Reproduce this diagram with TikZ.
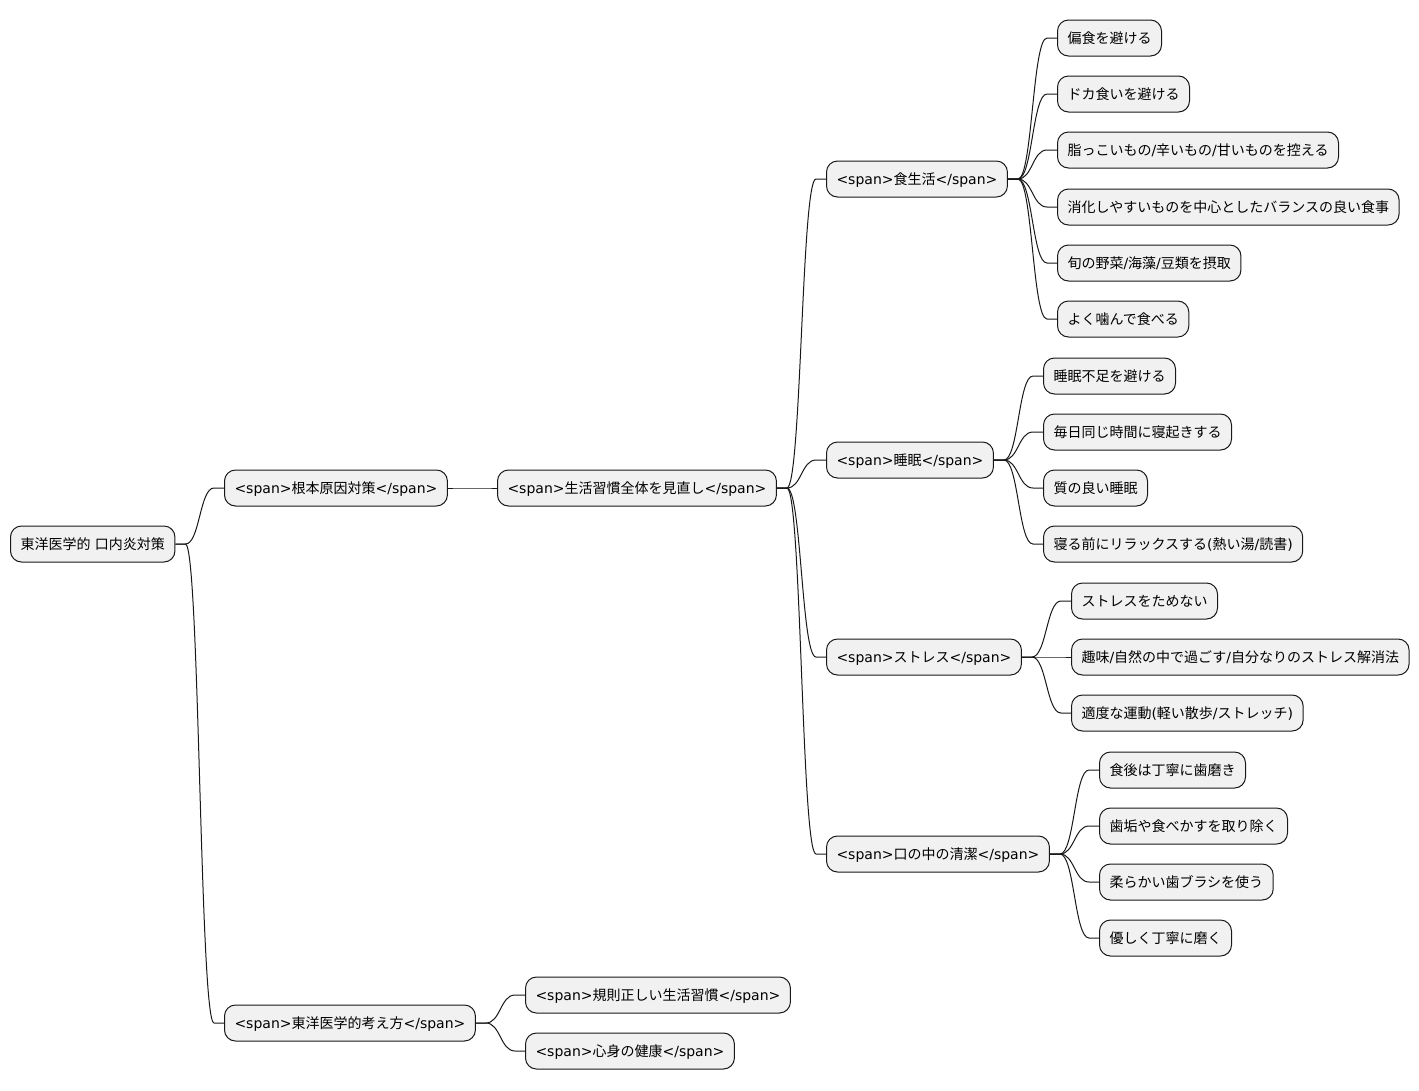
\documentclass[tikz,border=0pt]{standalone}
\usepackage{fontspec}
\setmainfont{DejaVu Sans}
\newfontfamily\jpfont{Noto Sans CJK JP}
\newcommand\ja[1]{{\jpfont #1}}
\usetikzlibrary{calc}
\definecolor{nodefill}{HTML}{F1F1F1}
\definecolor{edge}{HTML}{181818}
\tikzset{
  mmbox/.style={draw=edge, fill=nodefill, line width=1pt, rounded corners=11pt,
    minimum height=36pt, inner xsep=10pt, inner ysep=0pt, anchor=west,
    font=\fontsize{14}{16}\selectfont, text height=12.5pt, text depth=1pt},
  conn/.style={draw=edge, line width=1pt}
}
\newcommand\mmlink[2]{%
  \path (#1.east) ++(10,0) coordinate (ls);
  \path (#2.west) ++(-10,0) coordinate (le);
  \draw[conn] let \p1=(ls), \p2=(le) in
    (#1.east) -- (ls) .. controls ({(\x1+\x2)/2},\y1) and ({(\x1+\x2)/2},\y2) .. (le) -- (#2.west);
}
\begin{document}
\begin{tikzpicture}[x=1pt,y=-1pt]
\useasboundingbox (0,0) rectangle (1419,1090);
\node[mmbox] (root) at (10,544) {\ja{東洋医学的} \ja{口内炎対策}};
\node[mmbox] (a) at (224,488) {<span>\ja{根本原因対策}</span>};
\node[mmbox] (b) at (224,1023) {<span>\ja{東洋医学的考え方}</span>};
\node[mmbox] (a1) at (497,488) {<span>\ja{生活習慣全体を見直し}</span>};
\node[mmbox] (b1) at (525,995) {<span>\ja{規則正しい生活習慣}</span>};
\node[mmbox] (b2) at (525,1051) {<span>\ja{心身の健康}</span>};
\node[mmbox] (s1) at (826,179) {<span>\ja{食生活}</span>};
\node[mmbox] (s2) at (826,460) {<span>\ja{睡眠}</span>};
\node[mmbox] (s3) at (826,657) {<span>\ja{ストレス}</span>};
\node[mmbox] (s4) at (826,854) {<span>\ja{口の中の清潔}</span>};
% diet
\node[mmbox] (d1) at (1057,38) {\ja{偏食を避ける}};
\node[mmbox] (d2) at (1057,94) {\ja{ドカ食いを避ける}};
\node[mmbox] (d3) at (1057,150) {\ja{脂っこいもの}/\ja{辛いもの}/\ja{甘いものを控える}};
\node[mmbox] (d4) at (1057,207) {\ja{消化しやすいものを中心としたバランスの良い食事}};
\node[mmbox] (d5) at (1057,263) {\ja{旬の野菜}/\ja{海藻}/\ja{豆類を摂取}};
\node[mmbox] (d6) at (1057,319) {\ja{よく噛んで食べる}};
% sleep
\node[mmbox] (e1) at (1043,376) {\ja{睡眠不足を避ける}};
\node[mmbox] (e2) at (1043,432) {\ja{毎日同じ時間に寝起きする}};
\node[mmbox] (e3) at (1043,488) {\ja{質の良い睡眠}};
\node[mmbox] (e4) at (1043,544) {\ja{寝る前にリラックスする}(\ja{熱い湯}/\ja{読書})};
% stress
\node[mmbox] (f1) at (1071,601) {\ja{ストレスをためない}};
\node[mmbox] (f2) at (1071,657) {\ja{趣味}/\ja{自然の中で過ごす}/\ja{自分なりのストレス解消法}};
\node[mmbox] (f3) at (1071,713) {\ja{適度な運動}(\ja{軽い散歩}/\ja{ストレッチ})};
% mouth
\node[mmbox] (g1) at (1099,770) {\ja{食後は丁寧に歯磨き}};
\node[mmbox] (g2) at (1099,826) {\ja{歯垢や食べかすを取り除く}};
\node[mmbox] (g3) at (1099,882) {\ja{柔らかい歯ブラシを使う}};
\node[mmbox] (g4) at (1099,938) {\ja{優しく丁寧に磨く}};
% links
\mmlink{root}{a}
\mmlink{root}{b}
\mmlink{a}{a1}
\mmlink{b}{b1}
\mmlink{b}{b2}
\mmlink{a1}{s1}
\mmlink{a1}{s2}
\mmlink{a1}{s3}
\mmlink{a1}{s4}
\mmlink{s1}{d1}
\mmlink{s1}{d2}
\mmlink{s1}{d3}
\mmlink{s1}{d4}
\mmlink{s1}{d5}
\mmlink{s1}{d6}
\mmlink{s2}{e1}
\mmlink{s2}{e2}
\mmlink{s2}{e3}
\mmlink{s2}{e4}
\mmlink{s3}{f1}
\mmlink{s3}{f2}
\mmlink{s3}{f3}
\mmlink{s4}{g1}
\mmlink{s4}{g2}
\mmlink{s4}{g3}
\mmlink{s4}{g4}
\end{tikzpicture}
\end{document}
